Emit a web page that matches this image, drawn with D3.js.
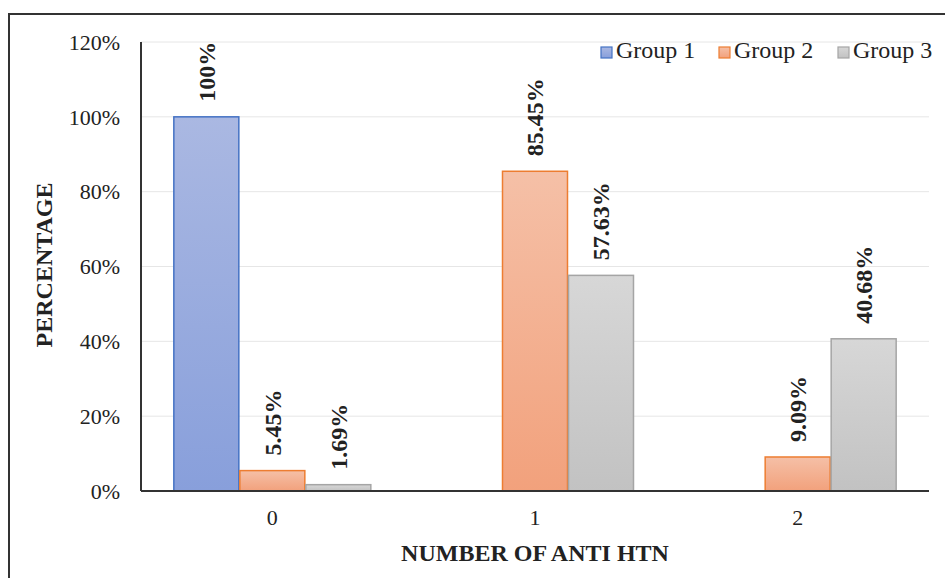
<!DOCTYPE html>
<html>
<head>
<meta charset="utf-8">
<script src="https://cdn.jsdelivr.net/npm/d3@7"></script>
<style>
  body { margin: 0; background: #fff; }
  text { font-family: "Liberation Serif", "Times New Roman", serif; fill: #222; }
</style>
</head>
<body>
<svg id="chart" width="945" height="578"></svg>
<script>
// values
const categories = ["0", "1", "2"];
const groups = ["Group 1", "Group 2", "Group 3"];
const group1 = [100, 0, 0];
const group2 = [5.45, 85.45, 9.09];
const group3 = [1.69, 57.63, 40.68];
const yTicks = [0, 20, 40, 60, 80, 100, 120];

const series = [group1, group2, group3];
const strokes = ["#4472c4", "#ed7d31", "#a5a5a5"];
const gradTop = ["#aab8e2", "#f5c0a7", "#d7d7d7"];
const gradBot = ["#889fdb", "#f2a17c", "#c2c2c2"];

const svg = d3.select("#chart");

// outer frame
svg.append("rect")
    .attr("x", 9).attr("y", 14)
    .attr("width", 960).attr("height", 620)
    .attr("fill", "none").attr("stroke", "#333").attr("stroke-width", 2);

const margin = {left: 141, right: 929, top: 42, bottom: 491};

const x0 = d3.scaleBand().domain(categories).range([margin.left, margin.right]).padding(0);
const x1 = d3.scaleBand().domain(groups).range([0, x0.bandwidth()]).paddingInner(0).paddingOuter(0.49);
const y = d3.scaleLinear().domain([0, 120]).range([margin.bottom, margin.top]);

// gradients
const defs = svg.append("defs");
groups.forEach((g, i) => {
    let lg = defs.append("linearGradient")
        .attr("id", "grad" + i)
        .attr("x1", 0).attr("y1", 0).attr("x2", 0).attr("y2", 1);
    lg.append("stop").attr("offset", "0%").attr("stop-color", gradTop[i]);
    lg.append("stop").attr("offset", "100%").attr("stop-color", gradBot[i]);
});

// gridlines
svg.append("g").selectAll("line")
    .data(yTicks.filter(d => d > 0))
    .enter().append("line")
    .attr("x1", margin.left).attr("x2", margin.right)
    .attr("y1", d => y(d)).attr("y2", d => y(d))
    .attr("stroke", "#e6e6e6").attr("stroke-width", 1);

// y tick labels
svg.append("g").selectAll("text")
    .data(yTicks)
    .enter().append("text")
    .attr("x", 120).attr("y", d => y(d))
    .attr("dy", "0.35em")
    .attr("text-anchor", "end")
    .style("font-size", "22px")
    .text(d => d + "%");

// bars
const cells = [];
series.forEach((vals, gi) => {
    vals.forEach((v, ci) => {
        cells.push({group: groups[gi], gi: gi, cat: categories[ci], value: v});
    });
});
const visible = cells.filter(d => d.value > 0);

svg.append("g").selectAll("rect")
    .data(visible)
    .enter().append("rect")
    .attr("x", d => x0(d.cat) + x1(d.group) + 0.5)
    .attr("y", d => y(d.value))
    .attr("width", x1.bandwidth() - 1)
    .attr("height", d => y(0) - y(d.value))
    .attr("fill", d => "url(#grad" + d.gi + ")")
    .attr("stroke", d => strokes[d.gi])
    .attr("stroke-width", 1.5);

// data labels, rotated
svg.append("g").selectAll("text")
    .data(visible)
    .enter().append("text")
    .attr("transform", d => {
        let cx = x0(d.cat) + x1(d.group) + x1.bandwidth() / 2;
        let cy = y(d.value) - 15;
        return "translate(" + cx + "," + cy + ") rotate(-90)";
    })
    .attr("dy", "0.35em")
    .style("font-size", "24px")
    .style("font-weight", "bold")
    .text(d => (d.value === 100 ? "100" : d.value.toFixed(2)) + "%");

// axes lines
svg.append("line")
    .attr("x1", margin.left).attr("x2", margin.left)
    .attr("y1", margin.top).attr("y2", margin.bottom)
    .attr("stroke", "#333").attr("stroke-width", 2);
svg.append("line")
    .attr("x1", margin.left).attr("x2", margin.right)
    .attr("y1", margin.bottom).attr("y2", margin.bottom)
    .attr("stroke", "#333").attr("stroke-width", 2);

// x tick labels
svg.append("g").selectAll("text")
    .data(categories)
    .enter().append("text")
    .attr("x", d => x0(d) + x0.bandwidth() / 2)
    .attr("y", 525)
    .attr("text-anchor", "middle")
    .style("font-size", "22px")
    .text(d => d);

// axis titles
svg.append("text")
    .attr("x", (margin.left + margin.right) / 2)
    .attr("y", 561)
    .attr("text-anchor", "middle")
    .style("font-size", "24px")
    .style("font-weight", "bold")
    .text("NUMBER OF ANTI HTN");

svg.append("text")
    .attr("transform", "translate(44,265) rotate(-90)")
    .attr("dy", "0.35em")
    .attr("text-anchor", "middle")
    .style("font-size", "24px")
    .style("font-weight", "bold")
    .text("PERCENTAGE");

// legend
const legendX = [601, 719, 838];
const legend = svg.append("g").selectAll("g")
    .data(groups)
    .enter().append("g")
    .attr("transform", (d, i) => "translate(" + legendX[i] + ",47)");
legend.append("rect")
    .attr("width", 11).attr("height", 11)
    .attr("fill", (d, i) => "url(#grad" + i + ")")
    .attr("stroke", (d, i) => strokes[i]).attr("stroke-width", 1.2);
legend.append("text")
    .attr("x", 15).attr("y", 11)
    .style("font-size", "24px")
    .text(d => d);
</script>
</body>
</html>
